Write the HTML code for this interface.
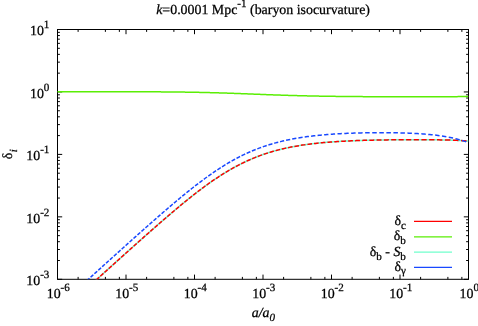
<!DOCTYPE html>
<html><head><meta charset="utf-8"><title>plot</title>
<style>html,body{margin:0;padding:0;background:#fff;}svg{display:block;will-change:transform;}text{white-space:pre;text-rendering:geometricPrecision;}</style></head>
<body>
<svg width="478" height="326" viewBox="0 0 478 326">
<rect width="478" height="326" fill="#fff"/>
<defs><clipPath id="c"><rect x="57.5" y="29.5" width="411.0" height="249.8"/></clipPath></defs>
<path d="M57.50,279.3v-4.7 M57.50,29.5v4.7 M78.12,279.3v-2.4 M78.12,29.5v2.4 M105.38,279.3v-2.4 M105.38,29.5v2.4 M119.36,279.3v-2.4 M119.36,29.5v2.4 M126.00,279.3v-4.7 M126.00,29.5v4.7 M146.62,279.3v-2.4 M146.62,29.5v2.4 M173.88,279.3v-2.4 M173.88,29.5v2.4 M187.86,279.3v-2.4 M187.86,29.5v2.4 M194.50,279.3v-4.7 M194.50,29.5v4.7 M215.12,279.3v-2.4 M215.12,29.5v2.4 M242.38,279.3v-2.4 M242.38,29.5v2.4 M256.36,279.3v-2.4 M256.36,29.5v2.4 M263.00,279.3v-4.7 M263.00,29.5v4.7 M283.62,279.3v-2.4 M283.62,29.5v2.4 M310.88,279.3v-2.4 M310.88,29.5v2.4 M324.86,279.3v-2.4 M324.86,29.5v2.4 M331.50,279.3v-4.7 M331.50,29.5v4.7 M352.12,279.3v-2.4 M352.12,29.5v2.4 M379.38,279.3v-2.4 M379.38,29.5v2.4 M393.36,279.3v-2.4 M393.36,29.5v2.4 M400.00,279.3v-4.7 M400.00,29.5v4.7 M420.62,279.3v-2.4 M420.62,29.5v2.4 M447.88,279.3v-2.4 M447.88,29.5v2.4 M461.86,279.3v-2.4 M461.86,29.5v2.4 M468.50,279.3v-4.7 M468.50,29.5v4.7 M57.5,29.50h4.7 M468.5,29.50h-4.7 M57.5,73.15h2.4 M468.5,73.15h-2.4 M57.5,62.15h2.4 M468.5,62.15h-2.4 M57.5,54.35h2.4 M468.5,54.35h-2.4 M57.5,48.30h2.4 M468.5,48.30h-2.4 M57.5,43.35h2.4 M468.5,43.35h-2.4 M57.5,39.17h2.4 M468.5,39.17h-2.4 M57.5,35.55h2.4 M468.5,35.55h-2.4 M57.5,32.36h2.4 M468.5,32.36h-2.4 M57.5,91.95h4.7 M468.5,91.95h-4.7 M57.5,135.60h2.4 M468.5,135.60h-2.4 M57.5,124.60h2.4 M468.5,124.60h-2.4 M57.5,116.80h2.4 M468.5,116.80h-2.4 M57.5,110.75h2.4 M468.5,110.75h-2.4 M57.5,105.80h2.4 M468.5,105.80h-2.4 M57.5,101.62h2.4 M468.5,101.62h-2.4 M57.5,98.00h2.4 M468.5,98.00h-2.4 M57.5,94.81h2.4 M468.5,94.81h-2.4 M57.5,154.40h4.7 M468.5,154.40h-4.7 M57.5,198.05h2.4 M468.5,198.05h-2.4 M57.5,187.05h2.4 M468.5,187.05h-2.4 M57.5,179.25h2.4 M468.5,179.25h-2.4 M57.5,173.20h2.4 M468.5,173.20h-2.4 M57.5,168.25h2.4 M468.5,168.25h-2.4 M57.5,164.07h2.4 M468.5,164.07h-2.4 M57.5,160.45h2.4 M468.5,160.45h-2.4 M57.5,157.26h2.4 M468.5,157.26h-2.4 M57.5,216.85h4.7 M468.5,216.85h-4.7 M57.5,260.50h2.4 M468.5,260.50h-2.4 M57.5,249.50h2.4 M468.5,249.50h-2.4 M57.5,241.70h2.4 M468.5,241.70h-2.4 M57.5,235.65h2.4 M468.5,235.65h-2.4 M57.5,230.70h2.4 M468.5,230.70h-2.4 M57.5,226.52h2.4 M468.5,226.52h-2.4 M57.5,222.90h2.4 M468.5,222.90h-2.4 M57.5,219.71h2.4 M468.5,219.71h-2.4 M57.5,279.30h4.7 M468.5,279.30h-4.7" stroke="#000" stroke-width="1" fill="none"/>
<rect x="57.5" y="29.5" width="411.00" height="249.80" fill="none" stroke="#000" stroke-width="1"/>
<g clip-path="url(#c)" fill="none">
<path d="M17.50,351.51 L18.25,350.83 L19.01,350.14 L19.76,349.46 L20.51,348.77 L21.26,348.09 L22.02,347.40 L22.77,346.71 L23.52,346.03 L24.28,345.34 L25.03,344.66 L25.78,343.97 L26.54,343.29 L27.29,342.60 L28.04,341.92 L28.79,341.23 L29.55,340.54 L30.30,339.86 L31.05,339.17 L31.81,338.49 L32.56,337.80 L33.31,337.12 L34.06,336.43 L34.82,335.75 L35.57,335.06 L36.32,334.37 L37.08,333.69 L37.83,333.00 L38.58,332.32 L39.33,331.63 L40.09,330.95 L40.84,330.26 L41.59,329.58 L42.35,328.89 L43.10,328.20 L43.85,327.52 L44.61,326.83 L45.36,326.15 L46.11,325.46 L46.86,324.78 L47.62,324.09 L48.37,323.41 L49.12,322.72 L49.88,322.03 L50.63,321.35 L51.38,320.66 L52.13,319.98 L52.89,319.29 L53.64,318.61 L54.39,317.92 L55.15,317.24 L55.90,316.55 L56.65,315.87 L57.40,315.18 L58.16,314.50 L58.91,313.81 L59.66,313.13 L60.42,312.44 L61.17,311.76 L61.92,311.07 L62.68,310.39 L63.43,309.70 L64.18,309.02 L64.93,308.33 L65.69,307.65 L66.44,306.96 L67.19,306.28 L67.95,305.59 L68.70,304.91 L69.45,304.23 L70.20,303.54 L70.96,302.86 L71.71,302.17 L72.46,301.49 L73.22,300.80 L73.97,300.12 L74.72,299.43 L75.47,298.75 L76.23,298.07 L76.98,297.38 L77.73,296.70 L78.49,296.01 L79.24,295.33 L79.99,294.65 L80.75,293.96 L81.50,293.28 L82.25,292.60 L83.00,291.91 L83.76,291.23 L84.51,290.55 L85.26,289.86 L86.02,289.18 L86.77,288.50 L87.52,287.81 L88.27,287.13 L89.03,286.45 L89.78,285.76 L90.53,285.08 L91.29,284.40 L92.04,283.72 L92.79,283.03 L93.55,282.35 L94.30,281.67 L95.05,280.99 L95.80,280.30 L96.56,279.62 L97.31,278.94 L98.06,278.26 L98.82,277.58 L99.57,276.90 L100.32,276.21 L101.07,275.53 L101.83,274.85 L102.58,274.17 L103.33,273.49 L104.09,272.81 L104.84,272.13 L105.59,271.45 L106.34,270.77 L107.10,270.09 L107.85,269.41 L108.60,268.73 L109.36,268.05 L110.11,267.37 L110.86,266.69 L111.62,266.01 L112.37,265.33 L113.12,264.65 L113.87,263.97 L114.63,263.29 L115.38,262.61 L116.13,261.93 L116.89,261.25 L117.64,260.58 L118.39,259.90 L119.14,259.22 L119.90,258.54 L120.65,257.87 L121.40,257.19 L122.16,256.51 L122.91,255.83 L123.66,255.16 L124.41,254.48 L125.17,253.80 L125.92,253.13 L126.67,252.45 L127.43,251.78 L128.18,251.10 L128.93,250.43 L129.69,249.75 L130.44,249.08 L131.19,248.40 L131.94,247.73 L132.70,247.06 L133.45,246.38 L134.20,245.71 L134.96,245.04 L135.71,244.37 L136.46,243.69 L137.21,243.02 L137.97,242.35 L138.72,241.68 L139.47,241.01 L140.23,240.34 L140.98,239.67 L141.73,239.00 L142.48,238.33 L143.24,237.66 L143.99,237.00 L144.74,236.33 L145.50,235.66 L146.25,234.99 L147.00,234.33 L147.76,233.66 L148.51,233.00 L149.26,232.33 L150.01,231.67 L150.77,231.01 L151.52,230.34 L152.27,229.68 L153.03,229.02 L153.78,228.36 L154.53,227.70 L155.28,227.04 L156.04,226.38 L156.79,225.72 L157.54,225.06 L158.30,224.40 L159.05,223.75 L159.80,223.09 L160.56,222.44 L161.31,221.78 L162.06,221.13 L162.81,220.48 L163.57,219.83 L164.32,219.18 L165.07,218.53 L165.83,217.88 L166.58,217.23 L167.33,216.58 L168.08,215.94 L168.84,215.29 L169.59,214.65 L170.34,214.01 L171.10,213.37 L171.85,212.73 L172.60,212.09 L173.35,211.45 L174.11,210.81 L174.86,210.18 L175.61,209.54 L176.37,208.91 L177.12,208.28 L177.87,207.65 L178.63,207.02 L179.38,206.40 L180.13,205.77 L180.88,205.15 L181.64,204.53 L182.39,203.91 L183.14,203.29 L183.90,202.67 L184.65,202.06 L185.40,201.44 L186.15,200.83 L186.91,200.22 L187.66,199.61 L188.41,199.01 L189.17,198.41 L189.92,197.80 L190.67,197.20 L191.42,196.61 L192.18,196.01 L192.93,195.42 L193.68,194.83 L194.44,194.24 L195.19,193.65 L195.94,193.07 L196.70,192.49 L197.45,191.91 L198.20,191.33 L198.95,190.76 L199.71,190.18 L200.46,189.62 L201.21,189.05 L201.97,188.49 L202.72,187.92 L203.47,187.37 L204.22,186.81 L204.98,186.26 L205.73,185.71 L206.48,185.16 L207.24,184.62 L207.99,184.08 L208.74,183.54 L209.49,183.01 L210.25,182.48 L211.00,181.95 L211.75,181.42 L212.51,180.90 L213.26,180.38 L214.01,179.87 L214.77,179.36 L215.52,178.85 L216.27,178.34 L217.02,177.84 L217.78,177.35 L218.53,176.85 L219.28,176.36 L220.04,175.87 L220.79,175.39 L221.54,174.91 L222.29,174.43 L223.05,173.96 L223.80,173.49 L224.55,173.03 L225.31,172.57 L226.06,172.11 L226.81,171.66 L227.57,171.21 L228.32,170.76 L229.07,170.32 L229.82,169.88 L230.58,169.45 L231.33,169.02 L232.08,168.59 L232.84,168.17 L233.59,167.75 L234.34,167.34 L235.09,166.93 L235.85,166.52 L236.60,166.12 L237.35,165.72 L238.11,165.33 L238.86,164.94 L239.61,164.55 L240.36,164.17 L241.12,163.80 L241.87,163.42 L242.62,163.05 L243.38,162.69 L244.13,162.33 L244.88,161.97 L245.64,161.61 L246.39,161.27 L247.14,160.92 L247.89,160.58 L248.65,160.24 L249.40,159.91 L250.15,159.58 L250.91,159.25 L251.66,158.93 L252.41,158.62 L253.16,158.30 L253.92,157.99 L254.67,157.69 L255.42,157.39 L256.18,157.09 L256.93,156.79 L257.68,156.50 L258.43,156.22 L259.19,155.94 L259.94,155.66 L260.69,155.38 L261.45,155.11 L262.20,154.84 L262.95,154.58 L263.71,154.32 L264.46,154.06 L265.21,153.81 L265.96,153.56 L266.72,153.31 L267.47,153.07 L268.22,152.83 L268.98,152.59 L269.73,152.36 L270.48,152.13 L271.23,151.91 L271.99,151.68 L272.74,151.47 L273.49,151.25 L274.25,151.04 L275.00,150.83 L275.75,150.62 L276.51,150.42 L277.26,150.22 L278.01,150.02 L278.76,149.83 L279.52,149.64 L280.27,149.45 L281.02,149.26 L281.78,149.08 L282.53,148.90 L283.28,148.73 L284.03,148.55 L284.79,148.38 L285.54,148.21 L286.29,148.05 L287.05,147.88 L287.80,147.72 L288.55,147.57 L289.30,147.41 L290.06,147.26 L290.81,147.11 L291.56,146.96 L292.32,146.82 L293.07,146.68 L293.82,146.54 L294.58,146.40 L295.33,146.26 L296.08,146.13 L296.83,146.00 L297.59,145.87 L298.34,145.74 L299.09,145.62 L299.85,145.50 L300.60,145.38 L301.35,145.26 L302.10,145.14 L302.86,145.03 L303.61,144.92 L304.36,144.81 L305.12,144.70 L305.87,144.59 L306.62,144.49 L307.37,144.39 L308.13,144.29 L308.88,144.19 L309.63,144.09 L310.39,143.99 L311.14,143.90 L311.89,143.81 L312.65,143.72 L313.40,143.63 L314.15,143.54 L314.90,143.46 L315.66,143.38 L316.41,143.29 L317.16,143.21 L317.92,143.13 L318.67,143.06 L319.42,142.98 L320.17,142.91 L320.93,142.83 L321.68,142.76 L322.43,142.69 L323.19,142.62 L323.94,142.55 L324.69,142.49 L325.44,142.42 L326.20,142.36 L326.95,142.29 L327.70,142.23 L328.46,142.17 L329.21,142.11 L329.96,142.05 L330.72,142.00 L331.47,141.94 L332.22,141.89 L332.97,141.83 L333.73,141.78 L334.48,141.73 L335.23,141.68 L335.99,141.63 L336.74,141.58 L337.49,141.53 L338.24,141.49 L339.00,141.44 L339.75,141.40 L340.50,141.35 L341.26,141.31 L342.01,141.27 L342.76,141.23 L343.52,141.19 L344.27,141.15 L345.02,141.11 L345.77,141.07 L346.53,141.03 L347.28,141.00 L348.03,140.96 L348.79,140.93 L349.54,140.89 L350.29,140.86 L351.04,140.83 L351.80,140.79 L352.55,140.76 L353.30,140.73 L354.06,140.70 L354.81,140.67 L355.56,140.64 L356.31,140.62 L357.07,140.59 L357.82,140.56 L358.57,140.53 L359.33,140.51 L360.08,140.48 L360.83,140.46 L361.59,140.44 L362.34,140.41 L363.09,140.39 L363.84,140.37 L364.60,140.34 L365.35,140.32 L366.10,140.30 L366.86,140.28 L367.61,140.26 L368.36,140.24 L369.11,140.22 L369.87,140.20 L370.62,140.19 L371.37,140.17 L372.13,140.15 L372.88,140.13 L373.63,140.12 L374.38,140.10 L375.14,140.09 L375.89,140.07 L376.64,140.05 L377.40,140.04 L378.15,140.03 L378.90,140.01 L379.66,140.00 L380.41,139.99 L381.16,139.97 L381.91,139.96 L382.67,139.95 L383.42,139.94 L384.17,139.92 L384.93,139.91 L385.68,139.90 L386.43,139.89 L387.18,139.88 L387.94,139.87 L388.69,139.86 L389.44,139.85 L390.20,139.84 L390.95,139.83 L391.70,139.82 L392.45,139.82 L393.21,139.81 L393.96,139.80 L394.71,139.79 L395.47,139.79 L396.22,139.78 L396.97,139.77 L397.73,139.77 L398.48,139.76 L399.23,139.75 L399.98,139.75 L400.74,139.74 L401.49,139.74 L402.24,139.73 L403.00,139.73 L403.75,139.72 L404.50,139.72 L405.25,139.72 L406.01,139.71 L406.76,139.71 L407.51,139.71 L408.27,139.70 L409.02,139.70 L409.77,139.70 L410.53,139.69 L411.28,139.69 L412.03,139.69 L412.78,139.69 L413.54,139.69 L414.29,139.69 L415.04,139.69 L415.80,139.69 L416.55,139.69 L417.30,139.69 L418.05,139.69 L418.81,139.69 L419.56,139.69 L420.31,139.69 L421.07,139.69 L421.82,139.70 L422.57,139.70 L423.32,139.70 L424.08,139.70 L424.83,139.71 L425.58,139.71 L426.34,139.72 L427.09,139.72 L427.84,139.73 L428.60,139.73 L429.35,139.74 L430.10,139.74 L430.85,139.75 L431.61,139.76 L432.36,139.76 L433.11,139.77 L433.87,139.78 L434.62,139.79 L435.37,139.80 L436.12,139.81 L436.88,139.82 L437.63,139.83 L438.38,139.84 L439.14,139.85 L439.89,139.87 L440.64,139.88 L441.39,139.89 L442.15,139.91 L442.90,139.92 L443.65,139.94 L444.41,139.96 L445.16,139.98 L445.91,139.99 L446.67,140.01 L447.42,140.03 L448.17,140.05 L448.92,140.08 L449.68,140.10 L450.43,140.12 L451.18,140.15 L451.94,140.17 L452.69,140.20 L453.44,140.23 L454.19,140.26 L454.95,140.29 L455.70,140.32 L456.45,140.35 L457.21,140.39 L457.96,140.43 L458.71,140.46 L459.46,140.50 L460.22,140.54 L460.97,140.58 L461.72,140.63 L462.48,140.67 L463.23,140.72 L463.98,140.77 L464.74,140.82 L465.49,140.88 L466.24,140.93 L466.99,140.99 L467.75,141.05 L468.50,141.11" stroke="#70ffcc" stroke-width="1.5"/>
<path d="M17.50,351.51 L18.51,350.59 L19.52,349.68 L20.52,348.76 M21.64,347.74 L22.65,346.82 L23.66,345.91 L24.66,344.99 M25.78,343.97 L26.79,343.05 L27.80,342.14 L28.81,341.22 M29.92,340.20 L30.93,339.28 L31.94,338.37 L32.95,337.45 M34.06,336.43 L35.07,335.51 L36.08,334.60 L37.09,333.68 M38.20,332.66 L39.21,331.74 L40.22,330.83 L41.23,329.91 M42.34,328.89 L43.35,327.97 L44.36,327.06 L45.37,326.14 M46.49,325.12 L47.49,324.20 L48.50,323.29 L49.51,322.37 M50.63,321.35 L51.63,320.43 L52.64,319.52 L53.65,318.60 M54.77,317.58 L55.78,316.66 L56.78,315.75 L57.79,314.83 M58.91,313.81 L59.92,312.90 L60.93,311.98 L61.93,311.06 M63.05,310.04 L64.06,309.13 L65.07,308.21 L66.08,307.29 M67.20,306.28 L68.20,305.36 L69.21,304.44 L70.22,303.53 M71.34,302.51 L72.35,301.59 L73.36,300.68 L74.36,299.76 M75.48,298.74 L76.49,297.83 L77.50,296.91 L78.51,295.99 M79.63,294.98 L80.64,294.06 L81.65,293.15 L82.65,292.23 M83.77,291.21 L84.78,290.30 L85.79,289.38 L86.80,288.47 M87.92,287.45 L88.93,286.53 L89.94,285.62 L90.95,284.70 M92.07,283.69 L93.08,282.77 L94.09,281.86 L95.10,280.94 M96.22,279.93 L97.23,279.01 L98.24,278.10 L99.25,277.18 M100.37,276.17 L101.38,275.25 L102.39,274.34 L103.40,273.43 M104.52,272.41 L105.53,271.50 L106.55,270.58 L107.56,269.67 M108.68,268.66 L109.69,267.74 L110.70,266.83 L111.71,265.92 M112.84,264.91 L113.85,263.99 L114.86,263.08 L115.87,262.17 M116.99,261.16 L118.01,260.24 L119.02,259.33 L120.03,258.42 M121.16,257.41 L122.17,256.50 L123.18,255.59 L124.20,254.68 M125.32,253.67 L126.34,252.76 L127.35,251.85 L128.37,250.94 M129.49,249.93 L130.51,249.02 L131.52,248.11 L132.54,247.20 M133.66,246.19 L134.68,245.28 L135.70,244.38 L136.71,243.47 M137.84,242.46 L138.86,241.56 L139.88,240.65 L140.90,239.75 M142.03,238.74 L143.04,237.84 L144.06,236.93 L145.08,236.03 M146.21,235.03 L147.24,234.12 L148.26,233.22 L149.28,232.32 M150.41,231.32 L151.43,230.42 L152.46,229.52 L153.48,228.62 M154.62,227.62 L155.64,226.72 L156.67,225.83 L157.69,224.93 M158.83,223.93 L159.86,223.04 L160.89,222.15 L161.92,221.25 M163.06,220.26 L164.09,219.37 L165.12,218.48 L166.16,217.59 M167.30,216.61 L168.34,215.72 L169.37,214.83 L170.41,213.95 M171.56,212.97 L172.60,212.09 L173.64,211.21 L174.68,210.33 M175.84,209.36 L176.88,208.48 L177.93,207.61 L178.98,206.73 M180.14,205.77 L181.19,204.90 L182.24,204.03 L183.29,203.17 M184.46,202.21 L185.52,201.35 L186.58,200.49 L187.64,199.63 M188.82,198.69 L189.88,197.83 L190.95,196.99 L192.01,196.14 M193.20,195.20 L194.28,194.36 L195.35,193.53 L196.43,192.69 M197.63,191.77 L198.71,190.94 L199.79,190.12 L200.88,189.30 M202.09,188.39 L203.19,187.58 L204.29,186.76 L205.39,185.96 M206.62,185.06 L207.74,184.26 L208.86,183.46 L209.99,182.66 M211.24,181.78 L212.38,180.99 L213.53,180.20 L214.68,179.42 M215.95,178.56 L217.12,177.78 L218.29,177.01 L219.47,176.24 M220.77,175.40 L221.97,174.64 L223.16,173.89 L224.36,173.15 M225.70,172.33 L226.92,171.59 L228.15,170.86 L229.38,170.14 M230.75,169.35 L232.00,168.64 L233.25,167.94 L234.51,167.25 M235.91,166.49 L237.19,165.81 L238.48,165.14 L239.77,164.48 M241.21,163.75 L242.52,163.10 L243.83,162.47 L245.15,161.84 M246.63,161.16 L247.96,160.55 L249.31,159.95 L250.65,159.36 M252.18,158.71 L253.54,158.15 L254.91,157.59 L256.28,157.05 M257.86,156.44 L259.25,155.91 L260.64,155.40 L262.04,154.90 M263.67,154.33 L265.08,153.85 L266.50,153.38 L267.92,152.93 M269.60,152.40 L271.03,151.97 L272.47,151.54 L273.91,151.13 M275.65,150.65 L277.10,150.26 L278.56,149.88 L280.02,149.51 M281.81,149.07 L283.28,148.73 L284.75,148.39 L286.23,148.06 M288.07,147.67 L289.56,147.36 L291.05,147.06 L292.54,146.78 M294.43,146.42 L295.93,146.16 L297.44,145.90 L298.94,145.64 M300.88,145.33 L302.40,145.10 L303.91,144.87 L305.43,144.65 M307.42,144.38 L308.94,144.18 L310.47,143.98 L312.00,143.80 M314.03,143.56 L315.57,143.39 L317.10,143.22 L318.64,143.06 M320.72,142.85 L322.26,142.71 L323.80,142.56 L325.35,142.43 M327.47,142.25 L329.02,142.13 L330.57,142.01 L332.12,141.89 M334.29,141.74 L335.86,141.64 L337.42,141.54 L338.98,141.44 M341.18,141.31 L342.76,141.23 L344.33,141.14 L345.91,141.06 M348.13,140.96 L349.72,140.88 L351.31,140.81 L352.90,140.75 M355.15,140.66 L356.75,140.60 L358.36,140.54 L359.96,140.49 M362.23,140.42 L363.84,140.37 L365.46,140.32 L367.08,140.28 M369.37,140.22 L371.00,140.18 L372.63,140.14 L374.27,140.10 M376.57,140.06 L378.22,140.02 L379.87,139.99 L381.52,139.97 M383.84,139.93 L385.51,139.90 L387.17,139.88 L388.83,139.86 M391.18,139.83 L392.87,139.81 L394.55,139.79 L396.23,139.78 M398.61,139.76 L400.31,139.75 L402.01,139.73 L403.71,139.72 M406.11,139.71 L407.83,139.70 L409.55,139.70 L411.28,139.69 M413.70,139.69 L415.44,139.69 L417.18,139.69 L418.92,139.69 M421.38,139.69 L423.14,139.70 L424.90,139.71 L426.66,139.72 M429.14,139.74 L430.92,139.75 L432.70,139.77 L434.47,139.79 M436.98,139.82 L438.78,139.85 L440.58,139.88 L442.38,139.91 M444.92,139.97 L446.73,140.01 L448.55,140.07 L450.37,140.12 M452.93,140.21 L454.77,140.28 L456.61,140.36 L458.44,140.45 M461.03,140.59 L462.89,140.70 L464.74,140.82 L466.60,140.96" stroke="#ff0000" stroke-width="1.5"/>
<path d="M17.50,91.65 L18.25,91.65 L19.01,91.65 L19.76,91.65 L20.51,91.65 L21.26,91.65 L22.02,91.65 L22.77,91.65 L23.52,91.65 L24.28,91.65 L25.03,91.65 L25.78,91.65 L26.54,91.65 L27.29,91.65 L28.04,91.65 L28.79,91.65 L29.55,91.65 L30.30,91.65 L31.05,91.65 L31.81,91.65 L32.56,91.65 L33.31,91.65 L34.06,91.65 L34.82,91.65 L35.57,91.65 L36.32,91.65 L37.08,91.65 L37.83,91.65 L38.58,91.65 L39.33,91.65 L40.09,91.65 L40.84,91.65 L41.59,91.65 L42.35,91.65 L43.10,91.65 L43.85,91.65 L44.61,91.65 L45.36,91.65 L46.11,91.65 L46.86,91.66 L47.62,91.66 L48.37,91.66 L49.12,91.66 L49.88,91.66 L50.63,91.66 L51.38,91.66 L52.13,91.66 L52.89,91.66 L53.64,91.66 L54.39,91.66 L55.15,91.66 L55.90,91.66 L56.65,91.66 L57.40,91.66 L58.16,91.66 L58.91,91.66 L59.66,91.66 L60.42,91.66 L61.17,91.66 L61.92,91.66 L62.68,91.66 L63.43,91.66 L64.18,91.66 L64.93,91.66 L65.69,91.66 L66.44,91.66 L67.19,91.66 L67.95,91.66 L68.70,91.66 L69.45,91.66 L70.20,91.66 L70.96,91.66 L71.71,91.66 L72.46,91.66 L73.22,91.66 L73.97,91.66 L74.72,91.66 L75.47,91.66 L76.23,91.66 L76.98,91.66 L77.73,91.66 L78.49,91.66 L79.24,91.67 L79.99,91.67 L80.75,91.67 L81.50,91.67 L82.25,91.67 L83.00,91.67 L83.76,91.67 L84.51,91.67 L85.26,91.67 L86.02,91.67 L86.77,91.67 L87.52,91.67 L88.27,91.67 L89.03,91.67 L89.78,91.67 L90.53,91.67 L91.29,91.67 L92.04,91.67 L92.79,91.67 L93.55,91.67 L94.30,91.67 L95.05,91.68 L95.80,91.68 L96.56,91.68 L97.31,91.68 L98.06,91.68 L98.82,91.68 L99.57,91.68 L100.32,91.68 L101.07,91.68 L101.83,91.68 L102.58,91.68 L103.33,91.68 L104.09,91.68 L104.84,91.69 L105.59,91.69 L106.34,91.69 L107.10,91.69 L107.85,91.69 L108.60,91.69 L109.36,91.69 L110.11,91.69 L110.86,91.69 L111.62,91.69 L112.37,91.70 L113.12,91.70 L113.87,91.70 L114.63,91.70 L115.38,91.70 L116.13,91.70 L116.89,91.70 L117.64,91.70 L118.39,91.71 L119.14,91.71 L119.90,91.71 L120.65,91.71 L121.40,91.71 L122.16,91.71 L122.91,91.71 L123.66,91.72 L124.41,91.72 L125.17,91.72 L125.92,91.72 L126.67,91.72 L127.43,91.72 L128.18,91.73 L128.93,91.73 L129.69,91.73 L130.44,91.73 L131.19,91.73 L131.94,91.74 L132.70,91.74 L133.45,91.74 L134.20,91.74 L134.96,91.75 L135.71,91.75 L136.46,91.75 L137.21,91.75 L137.97,91.76 L138.72,91.76 L139.47,91.76 L140.23,91.76 L140.98,91.77 L141.73,91.77 L142.48,91.77 L143.24,91.78 L143.99,91.78 L144.74,91.78 L145.50,91.79 L146.25,91.79 L147.00,91.79 L147.76,91.80 L148.51,91.80 L149.26,91.80 L150.01,91.81 L150.77,91.81 L151.52,91.82 L152.27,91.82 L153.03,91.82 L153.78,91.83 L154.53,91.83 L155.28,91.84 L156.04,91.84 L156.79,91.85 L157.54,91.85 L158.30,91.86 L159.05,91.86 L159.80,91.87 L160.56,91.87 L161.31,91.88 L162.06,91.88 L162.81,91.89 L163.57,91.89 L164.32,91.90 L165.07,91.91 L165.83,91.91 L166.58,91.92 L167.33,91.93 L168.08,91.93 L168.84,91.94 L169.59,91.95 L170.34,91.95 L171.10,91.96 L171.85,91.97 L172.60,91.98 L173.35,91.98 L174.11,91.99 L174.86,92.00 L175.61,92.01 L176.37,92.02 L177.12,92.02 L177.87,92.03 L178.63,92.04 L179.38,92.05 L180.13,92.06 L180.88,92.07 L181.64,92.08 L182.39,92.09 L183.14,92.10 L183.90,92.11 L184.65,92.12 L185.40,92.13 L186.15,92.14 L186.91,92.16 L187.66,92.17 L188.41,92.18 L189.17,92.19 L189.92,92.20 L190.67,92.22 L191.42,92.23 L192.18,92.24 L192.93,92.25 L193.68,92.27 L194.44,92.28 L195.19,92.30 L195.94,92.31 L196.70,92.32 L197.45,92.34 L198.20,92.35 L198.95,92.37 L199.71,92.38 L200.46,92.40 L201.21,92.42 L201.97,92.43 L202.72,92.45 L203.47,92.47 L204.22,92.48 L204.98,92.50 L205.73,92.52 L206.48,92.54 L207.24,92.55 L207.99,92.57 L208.74,92.59 L209.49,92.61 L210.25,92.63 L211.00,92.65 L211.75,92.67 L212.51,92.69 L213.26,92.71 L214.01,92.73 L214.77,92.75 L215.52,92.77 L216.27,92.80 L217.02,92.82 L217.78,92.84 L218.53,92.86 L219.28,92.88 L220.04,92.91 L220.79,92.93 L221.54,92.95 L222.29,92.98 L223.05,93.00 L223.80,93.03 L224.55,93.05 L225.31,93.07 L226.06,93.10 L226.81,93.12 L227.57,93.15 L228.32,93.18 L229.07,93.20 L229.82,93.23 L230.58,93.25 L231.33,93.28 L232.08,93.31 L232.84,93.33 L233.59,93.36 L234.34,93.39 L235.09,93.42 L235.85,93.44 L236.60,93.47 L237.35,93.50 L238.11,93.53 L238.86,93.55 L239.61,93.58 L240.36,93.61 L241.12,93.64 L241.87,93.67 L242.62,93.70 L243.38,93.73 L244.13,93.75 L244.88,93.78 L245.64,93.81 L246.39,93.84 L247.14,93.87 L247.89,93.90 L248.65,93.93 L249.40,93.96 L250.15,93.99 L250.91,94.02 L251.66,94.05 L252.41,94.08 L253.16,94.11 L253.92,94.14 L254.67,94.17 L255.42,94.20 L256.18,94.22 L256.93,94.25 L257.68,94.28 L258.43,94.31 L259.19,94.34 L259.94,94.37 L260.69,94.40 L261.45,94.43 L262.20,94.46 L262.95,94.49 L263.71,94.52 L264.46,94.55 L265.21,94.57 L265.96,94.60 L266.72,94.63 L267.47,94.66 L268.22,94.69 L268.98,94.72 L269.73,94.74 L270.48,94.77 L271.23,94.80 L271.99,94.83 L272.74,94.85 L273.49,94.88 L274.25,94.91 L275.00,94.94 L275.75,94.96 L276.51,94.99 L277.26,95.01 L278.01,95.04 L278.76,95.07 L279.52,95.09 L280.27,95.12 L281.02,95.14 L281.78,95.17 L282.53,95.19 L283.28,95.22 L284.03,95.24 L284.79,95.27 L285.54,95.29 L286.29,95.31 L287.05,95.34 L287.80,95.36 L288.55,95.38 L289.30,95.41 L290.06,95.43 L290.81,95.45 L291.56,95.48 L292.32,95.50 L293.07,95.52 L293.82,95.54 L294.58,95.56 L295.33,95.58 L296.08,95.60 L296.83,95.62 L297.59,95.64 L298.34,95.67 L299.09,95.68 L299.85,95.70 L300.60,95.72 L301.35,95.74 L302.10,95.76 L302.86,95.78 L303.61,95.80 L304.36,95.82 L305.12,95.84 L305.87,95.85 L306.62,95.87 L307.37,95.89 L308.13,95.90 L308.88,95.92 L309.63,95.94 L310.39,95.95 L311.14,95.97 L311.89,95.99 L312.65,96.00 L313.40,96.02 L314.15,96.03 L314.90,96.05 L315.66,96.06 L316.41,96.08 L317.16,96.09 L317.92,96.11 L318.67,96.12 L319.42,96.13 L320.17,96.15 L320.93,96.16 L321.68,96.17 L322.43,96.19 L323.19,96.20 L323.94,96.21 L324.69,96.22 L325.44,96.23 L326.20,96.25 L326.95,96.26 L327.70,96.27 L328.46,96.28 L329.21,96.29 L329.96,96.30 L330.72,96.31 L331.47,96.32 L332.22,96.33 L332.97,96.34 L333.73,96.35 L334.48,96.36 L335.23,96.37 L335.99,96.38 L336.74,96.39 L337.49,96.40 L338.24,96.41 L339.00,96.42 L339.75,96.43 L340.50,96.44 L341.26,96.44 L342.01,96.45 L342.76,96.46 L343.52,96.47 L344.27,96.48 L345.02,96.48 L345.77,96.49 L346.53,96.50 L347.28,96.51 L348.03,96.51 L348.79,96.52 L349.54,96.53 L350.29,96.53 L351.04,96.54 L351.80,96.55 L352.55,96.55 L353.30,96.56 L354.06,96.56 L354.81,96.57 L355.56,96.58 L356.31,96.58 L357.07,96.59 L357.82,96.59 L358.57,96.60 L359.33,96.60 L360.08,96.61 L360.83,96.61 L361.59,96.62 L362.34,96.62 L363.09,96.63 L363.84,96.63 L364.60,96.64 L365.35,96.64 L366.10,96.64 L366.86,96.65 L367.61,96.65 L368.36,96.66 L369.11,96.66 L369.87,96.66 L370.62,96.67 L371.37,96.67 L372.13,96.67 L372.88,96.68 L373.63,96.68 L374.38,96.68 L375.14,96.69 L375.89,96.69 L376.64,96.69 L377.40,96.70 L378.15,96.70 L378.90,96.70 L379.66,96.71 L380.41,96.71 L381.16,96.71 L381.91,96.71 L382.67,96.72 L383.42,96.72 L384.17,96.72 L384.93,96.72 L385.68,96.73 L386.43,96.73 L387.18,96.73 L387.94,96.73 L388.69,96.73 L389.44,96.74 L390.20,96.74 L390.95,96.74 L391.70,96.74 L392.45,96.74 L393.21,96.74 L393.96,96.75 L394.71,96.75 L395.47,96.75 L396.22,96.75 L396.97,96.75 L397.73,96.75 L398.48,96.75 L399.23,96.76 L399.98,96.76 L400.74,96.76 L401.49,96.76 L402.24,96.76 L403.00,96.76 L403.75,96.76 L404.50,96.76 L405.25,96.76 L406.01,96.76 L406.76,96.77 L407.51,96.77 L408.27,96.77 L409.02,96.77 L409.77,96.77 L410.53,96.77 L411.28,96.77 L412.03,96.77 L412.78,96.77 L413.54,96.77 L414.29,96.77 L415.04,96.77 L415.80,96.77 L416.55,96.77 L417.30,96.77 L418.05,96.77 L418.81,96.77 L419.56,96.77 L420.31,96.77 L421.07,96.77 L421.82,96.77 L422.57,96.77 L423.32,96.77 L424.08,96.77 L424.83,96.77 L425.58,96.76 L426.34,96.76 L427.09,96.76 L427.84,96.76 L428.60,96.76 L429.35,96.76 L430.10,96.76 L430.85,96.76 L431.61,96.76 L432.36,96.75 L433.11,96.75 L433.87,96.75 L434.62,96.75 L435.37,96.75 L436.12,96.74 L436.88,96.74 L437.63,96.74 L438.38,96.74 L439.14,96.74 L439.89,96.73 L440.64,96.73 L441.39,96.73 L442.15,96.72 L442.90,96.72 L443.65,96.72 L444.41,96.71 L445.16,96.71 L445.91,96.71 L446.67,96.70 L447.42,96.70 L448.17,96.69 L448.92,96.69 L449.68,96.69 L450.43,96.68 L451.18,96.68 L451.94,96.67 L452.69,96.66 L453.44,96.66 L454.19,96.65 L454.95,96.65 L455.70,96.64 L456.45,96.63 L457.21,96.63 L457.96,96.62 L458.71,96.61 L459.46,96.60 L460.22,96.60 L460.97,96.59 L461.72,96.58 L462.48,96.57 L463.23,96.56 L463.98,96.55 L464.74,96.54 L465.49,96.53 L466.24,96.52 L466.99,96.51 L467.75,96.50 L468.50,96.48" stroke="#5aee05" stroke-width="1.5"/>
<path d="M17.50,343.71 L18.41,342.88 L19.32,342.05 L20.23,341.22 M21.35,340.21 L22.26,339.38 L23.17,338.55 L24.08,337.72 M25.19,336.71 L26.10,335.88 L27.01,335.05 L27.92,334.22 M29.04,333.21 L29.95,332.38 L30.86,331.55 L31.77,330.72 M32.88,329.71 L33.79,328.88 L34.70,328.05 L35.61,327.22 M36.73,326.21 L37.64,325.38 L38.55,324.55 L39.46,323.72 M40.57,322.70 L41.48,321.88 L42.39,321.05 L43.30,320.22 M44.42,319.20 L45.33,318.37 L46.24,317.55 L47.15,316.72 M48.26,315.70 L49.17,314.87 L50.08,314.05 L50.99,313.22 M52.11,312.20 L53.02,311.37 L53.93,310.55 L54.84,309.72 M55.95,308.70 L56.86,307.87 L57.77,307.05 L58.68,306.22 M59.80,305.20 L60.71,304.37 L61.62,303.55 L62.53,302.72 M63.64,301.70 L64.55,300.88 L65.47,300.05 L66.38,299.22 M67.49,298.20 L68.40,297.38 L69.31,296.55 L70.22,295.72 M71.34,294.71 L72.25,293.88 L73.16,293.05 L74.07,292.22 M75.19,291.21 L76.10,290.38 L77.01,289.55 L77.92,288.73 M79.04,287.71 L79.95,286.89 L80.86,286.06 L81.77,285.23 M82.89,284.22 L83.80,283.39 L84.71,282.56 L85.62,281.74 M86.74,280.72 L87.65,279.90 L88.56,279.07 L89.47,278.24 M90.59,277.23 L91.50,276.40 L92.41,275.58 L93.32,274.75 M94.44,273.74 L95.36,272.91 L96.27,272.08 L97.18,271.25 M98.31,270.24 L99.22,269.41 L100.14,268.58 L101.05,267.75 M102.18,266.73 L103.10,265.90 L104.01,265.07 L104.93,264.24 M106.06,263.22 L106.98,262.39 L107.90,261.56 L108.82,260.73 M109.95,259.71 L110.87,258.87 L111.80,258.04 L112.72,257.21 M113.85,256.19 L114.78,255.35 L115.70,254.52 L116.63,253.68 M117.76,252.66 L118.69,251.82 L119.62,250.99 L120.55,250.15 M121.69,249.13 L122.62,248.29 L123.55,247.46 L124.48,246.62 M125.62,245.60 L126.55,244.76 L127.49,243.92 L128.42,243.09 M129.56,242.06 L130.50,241.22 L131.44,240.38 L132.37,239.55 M133.52,238.52 L134.46,237.68 L135.40,236.84 L136.34,236.00 M137.49,234.98 L138.43,234.14 L139.37,233.30 L140.32,232.46 M141.47,231.43 L142.42,230.59 L143.36,229.75 L144.31,228.91 M145.47,227.89 L146.41,227.05 L147.36,226.21 L148.31,225.37 M149.48,224.34 L150.43,223.50 L151.38,222.66 L152.33,221.82 M153.50,220.80 L154.46,219.96 L155.42,219.12 L156.37,218.28 M157.55,217.26 L158.51,216.42 L159.47,215.58 L160.43,214.74 M161.61,213.72 L162.58,212.88 L163.54,212.05 L164.51,211.21 M165.69,210.19 L166.66,209.35 L167.64,208.52 L168.61,207.69 M169.80,206.67 L170.78,205.84 L171.75,205.01 L172.73,204.18 M173.93,203.16 L174.91,202.33 L175.90,201.50 L176.88,200.68 M178.09,199.67 L179.08,198.84 L180.07,198.02 L181.06,197.20 M182.28,196.19 L183.28,195.37 L184.28,194.56 L185.28,193.74 M186.51,192.74 L187.51,191.93 L188.52,191.12 L189.53,190.31 M190.77,189.32 L191.79,188.52 L192.80,187.72 L193.82,186.92 M195.08,185.94 L196.10,185.14 L197.13,184.35 L198.16,183.56 M199.43,182.59 L200.47,181.81 L201.51,181.03 L202.55,180.25 M203.84,179.30 L204.89,178.52 L205.94,177.76 L207.00,176.99 M208.30,176.06 L209.36,175.30 L210.43,174.55 L211.50,173.80 M212.82,172.88 L213.90,172.14 L214.99,171.41 L216.07,170.67 M217.41,169.79 L218.51,169.06 L219.61,168.35 L220.72,167.64 M222.07,166.77 L223.19,166.07 L224.31,165.38 L225.43,164.69 M226.81,163.86 L227.95,163.18 L229.09,162.51 L230.23,161.85 M231.63,161.05 L232.79,160.40 L233.94,159.76 L235.10,159.12 M236.53,158.36 L237.71,157.74 L238.89,157.13 L240.07,156.52 M241.53,155.79 L242.74,155.20 L243.94,154.62 L245.16,154.04 M246.66,153.34 L247.89,152.79 L249.12,152.24 L250.35,151.70 M251.91,151.03 L253.16,150.51 L254.42,149.99 L255.68,149.49 M257.30,148.86 L258.57,148.37 L259.85,147.89 L261.13,147.43 M262.81,146.83 L264.11,146.39 L265.41,145.95 L266.71,145.52 M268.45,144.96 L269.77,144.56 L271.09,144.16 L272.41,143.77 M274.22,143.25 L275.55,142.89 L276.89,142.53 L278.23,142.18 M280.10,141.70 L281.45,141.37 L282.81,141.05 L284.16,140.74 M286.09,140.31 L287.46,140.01 L288.83,139.73 L290.20,139.45 M292.20,139.06 L293.58,138.80 L294.96,138.55 L296.35,138.31 M298.40,137.96 L299.80,137.73 L301.19,137.51 L302.59,137.30 M304.71,136.99 L306.11,136.79 L307.52,136.60 L308.93,136.42 M311.10,136.15 L312.52,135.98 L313.93,135.81 L315.34,135.66 M317.58,135.42 L319.00,135.28 L320.42,135.14 L321.84,135.00 M324.14,134.80 L325.57,134.68 L327.00,134.56 L328.42,134.45 M330.78,134.27 L332.21,134.17 L333.65,134.08 L335.08,133.98 M337.50,133.84 L338.95,133.75 L340.40,133.67 L341.85,133.60 M344.29,133.48 L345.76,133.41 L347.23,133.35 L348.69,133.29 M351.16,133.19 L352.65,133.14 L354.13,133.09 L355.61,133.04 M358.11,132.97 L359.61,132.93 L361.11,132.89 L362.61,132.86 M365.14,132.81 L366.65,132.78 L368.16,132.76 L369.68,132.73 M372.24,132.70 L373.75,132.69 L375.26,132.68 L376.77,132.67 M379.31,132.66 L380.82,132.66 L382.33,132.66 L383.83,132.66 M386.37,132.67 L387.87,132.68 L389.38,132.70 L390.88,132.71 M393.41,132.75 L394.91,132.77 L396.41,132.80 L397.90,132.83 M400.43,132.89 L401.92,132.93 L403.41,132.98 L404.91,133.02 M407.42,133.11 L408.91,133.17 L410.40,133.23 L411.89,133.30 M414.40,133.42 L415.88,133.50 L417.36,133.58 L418.84,133.67 M421.34,133.84 L422.82,133.94 L424.30,134.05 L425.77,134.17 M428.26,134.39 L429.73,134.52 L431.20,134.67 L432.67,134.82 M435.14,135.10 L436.60,135.27 L438.06,135.46 L439.52,135.66 M441.98,136.01 L443.43,136.24 L444.88,136.47 L446.33,136.72 M448.76,137.17 L450.20,137.46 L451.63,137.75 L453.06,138.07 M455.46,138.63 L456.88,138.99 L458.29,139.36 L459.70,139.76 M462.06,140.46 L463.44,140.90 L464.82,141.36 L466.20,141.85 M468.50,142.71 L468.50,142.71 L468.50,142.71 L468.50,142.71" stroke="#1848ff" stroke-width="1.5"/>
</g>
<path d="M414.0,221.45H452.0" stroke="#ff0000" stroke-width="1.25" fill="none"/>
<path d="M414.0,236.75H452.0" stroke="#5aee05" stroke-width="1.25" fill="none"/>
<path d="M414.0,252.1H452.0" stroke="#70ffcc" stroke-width="1.25" fill="none"/>
<path d="M414.0,267.4H452.0" stroke="#1848ff" stroke-width="1.25" fill="none"/>
<text x="263.1" y="14.3" font-family="Liberation Serif, serif" font-size="13.9" text-anchor="middle" fill="#000" stroke="#000" stroke-width="0.25" ><tspan font-style="italic">k</tspan>=0.0001 Mpc<tspan font-size="11.1" dy="-7">-1</tspan><tspan dy="7"> (baryon isocurvature)</tspan></text>
<text x="58.30" y="298.1" font-family="Liberation Serif, serif" font-size="13.9" text-anchor="middle" fill="#000" stroke="#000" stroke-width="0.25" >10<tspan font-size="11.1" dy="-7">-6</tspan></text>
<text x="126.80" y="298.1" font-family="Liberation Serif, serif" font-size="13.9" text-anchor="middle" fill="#000" stroke="#000" stroke-width="0.25" >10<tspan font-size="11.1" dy="-7">-5</tspan></text>
<text x="195.30" y="298.1" font-family="Liberation Serif, serif" font-size="13.9" text-anchor="middle" fill="#000" stroke="#000" stroke-width="0.25" >10<tspan font-size="11.1" dy="-7">-4</tspan></text>
<text x="263.80" y="298.1" font-family="Liberation Serif, serif" font-size="13.9" text-anchor="middle" fill="#000" stroke="#000" stroke-width="0.25" >10<tspan font-size="11.1" dy="-7">-3</tspan></text>
<text x="332.30" y="298.1" font-family="Liberation Serif, serif" font-size="13.9" text-anchor="middle" fill="#000" stroke="#000" stroke-width="0.25" >10<tspan font-size="11.1" dy="-7">-2</tspan></text>
<text x="400.80" y="298.1" font-family="Liberation Serif, serif" font-size="13.9" text-anchor="middle" fill="#000" stroke="#000" stroke-width="0.25" >10<tspan font-size="11.1" dy="-7">-1</tspan></text>
<text x="469.30" y="298.1" font-family="Liberation Serif, serif" font-size="13.9" text-anchor="middle" fill="#000" stroke="#000" stroke-width="0.25" >10<tspan font-size="11.1" dy="-7">0</tspan></text>
<text x="49.4" y="35.30" font-family="Liberation Serif, serif" font-size="13.9" text-anchor="end" fill="#000" stroke="#000" stroke-width="0.25" >10<tspan font-size="11.1" dy="-7">1</tspan></text>
<text x="49.4" y="97.75" font-family="Liberation Serif, serif" font-size="13.9" text-anchor="end" fill="#000" stroke="#000" stroke-width="0.25" >10<tspan font-size="11.1" dy="-7">0</tspan></text>
<text x="49.4" y="160.20" font-family="Liberation Serif, serif" font-size="13.9" text-anchor="end" fill="#000" stroke="#000" stroke-width="0.25" >10<tspan font-size="11.1" dy="-7">-1</tspan></text>
<text x="49.4" y="222.65" font-family="Liberation Serif, serif" font-size="13.9" text-anchor="end" fill="#000" stroke="#000" stroke-width="0.25" >10<tspan font-size="11.1" dy="-7">-2</tspan></text>
<text x="49.4" y="285.10" font-family="Liberation Serif, serif" font-size="13.9" text-anchor="end" fill="#000" stroke="#000" stroke-width="0.25" >10<tspan font-size="11.1" dy="-7">-3</tspan></text>
<text x="263.4" y="316.6" font-family="Liberation Serif, serif" font-size="13.9" text-anchor="middle" fill="#000" stroke="#000" stroke-width="0.25" ><tspan font-style="italic">a/a</tspan><tspan font-size="11.1" dy="4.2" font-style="italic">0</tspan></text>
<g transform="translate(11.5,159.2) rotate(-90)"><text x="0" y="0" font-family="Liberation Serif, serif" font-size="13.9" text-anchor="start" fill="#000" stroke="#000" stroke-width="0.25" >δ<tspan font-size="11.1" dy="5.5" dx="0.5" font-style="italic">i</tspan></text></g>
<text x="405.9" y="224.8" font-family="Liberation Serif, serif" font-size="13.9" text-anchor="end" fill="#000" stroke="#000" stroke-width="0.25" >δ<tspan font-size="11.1" dy="4.2">c</tspan></text>
<text x="405.9" y="240.2" font-family="Liberation Serif, serif" font-size="13.9" text-anchor="end" fill="#000" stroke="#000" stroke-width="0.25" >δ<tspan font-size="11.1" dy="4.2">b</tspan></text>
<text x="405.9" y="255.5" font-family="Liberation Serif, serif" font-size="13.9" text-anchor="end" fill="#000" stroke="#000" stroke-width="0.25" >δ<tspan font-size="11.1" dy="4.2">b</tspan><tspan dy="-4.2"> - </tspan><tspan font-style="italic">S</tspan><tspan font-size="11.1" dy="4.2">b</tspan></text>
<text x="405.9" y="270.8" font-family="Liberation Serif, serif" font-size="13.9" text-anchor="end" fill="#000" stroke="#000" stroke-width="0.25" >δ<tspan font-size="11.1" dy="2.8">γ</tspan></text>
</svg>
</body></html>
